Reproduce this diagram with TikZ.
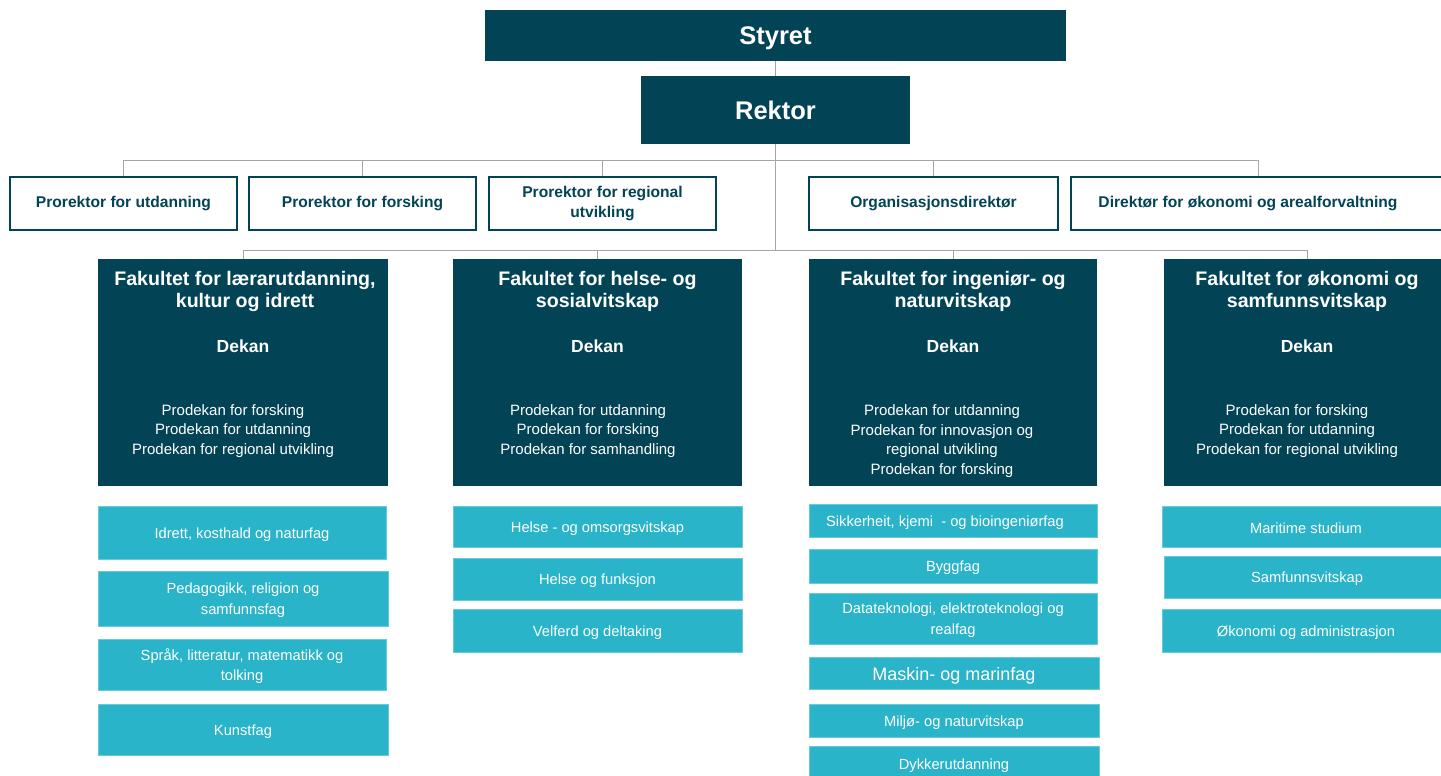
\documentclass[tikz,border=0pt]{standalone}
\usepackage{fontspec}
\setmainfont{Liberation Sans}
\definecolor{dark}{RGB}{2,68,86}
\definecolor{light}{RGB}{41,180,201}
\definecolor{conn}{RGB}{166,166,166}
\newcommand{\fs}[2]{\fontsize{#1}{#2}\selectfont}
\tikzset{
  topbox/.style={fill=dark, text=white, font=\bfseries\fs{25.5}{30}, inner sep=0pt, text depth=0pt},
  probox/.style={draw=dark, line width=1.5pt, fill=white, text=dark, font=\bfseries\fs{15.6}{20}, align=center, inner sep=0pt, minimum height=53pt},
  facbox/.style={fill=dark, inner sep=0pt, minimum height=227pt},
  factitle/.style={text=white, font=\bfseries\fs{19.6}{22}, align=center, inner sep=0pt},
  facdekan/.style={text=white, font=\bfseries\fs{17.5}{20}, inner sep=0pt},
  facpro/.style={text=white, font=\fs{15}{19.7}, align=center, inner sep=0pt},
  depbox/.style={fill=light, draw=light!70!white, line width=0.8pt, inner sep=0pt},
  deptext/.style={text=white, font=\fs{14.7}{20.5}, align=center, inner sep=0pt, yshift=-1.8pt},
  conline/.style={draw=conn, line width=1pt},
}
\begin{document}
\begin{tikzpicture}[x=1pt,y=-1pt]
\useasboundingbox (0,0) rectangle (1441,776);
% top
\node[topbox, minimum width=581pt, minimum height=51pt] (styret) at (775.5,35.5) {Styret};
\node[topbox, minimum width=269pt, minimum height=68pt] (rektor) at (775.5,110) {Rektor};
% prorektors
\node[probox, minimum width=227pt] (p1) at (123.5,203.5) {Prorektor for utdanning};
\node[probox, minimum width=227pt] (p2) at (362.5,203.5) {Prorektor for forsking};
\node[probox, minimum width=227pt] (p3) at (602.5,203.5) {Prorektor for regional\\utvikling};
\node[probox, minimum width=249pt] (p4) at (933.5,203.5) {Organisasjonsdirektør};
\node[probox, minimum width=374pt, label={[text=dark, font=\bfseries\fs{15.6}{20}, inner sep=0pt, xshift=-10pt]center:Direktør for økonomi og arealforvaltning}] (p5) at (1258,203.5) {};
% faculties
\node[facbox, minimum width=290pt] (f1) at (243,372.5) {};
\node[facbox, minimum width=289pt] (f2) at (597.5,372.5) {};
\node[facbox, minimum width=288pt] (f3) at (953,372.5) {};
\node[facbox, minimum width=287pt] (f4) at (1307,372.5) {};
\node[factitle] (f1t) at (245,291.5) {Fakultet for lærarutdanning,\\kultur og idrett};
\node[factitle] (f2t) at (597.5,291.5) {Fakultet for helse- og\\sosialvitskap};
\node[factitle] (f3t) at (953,291.5) {Fakultet for ingeniør- og\\naturvitskap};
\node[factitle] (f4t) at (1307,291.5) {Fakultet for økonomi og\\samfunnsvitskap};
\node[facdekan] (f1d) at (243,346) {Dekan};
\node[facdekan] (f2d) at (597.5,346) {Dekan};
\node[facdekan] (f3d) at (953,346) {Dekan};
\node[facdekan] (f4d) at (1307,346) {Dekan};
\node[facpro] (f1p) at (233,431) {Prodekan for forsking\\Prodekan for utdanning\\Prodekan for regional utvikling};
\node[facpro] (f2p) at (588,431) {Prodekan for utdanning\\Prodekan for forsking\\Prodekan for samhandling};
\node[facpro] (f3p) at (942,441) {Prodekan for utdanning\\Prodekan for innovasjon og\\regional utvikling\\Prodekan for forsking};
\node[facpro] (f4p) at (1297,431) {Prodekan for forsking\\Prodekan for utdanning\\Prodekan for regional utvikling};
% departments col 1
\node[depbox, minimum width=288pt, minimum height=53pt, label={[deptext]center:Idrett, kosthald og naturfag}] (d11) at (242,532.5) {};
\node[depbox, minimum width=290pt, minimum height=55pt, label={[deptext]center:Pedagogikk, religion og\\samfunnsfag}] (d12) at (243,598.5) {};
\node[depbox, minimum width=288pt, minimum height=51pt, label={[deptext]center:Språk, litteratur, matematikk og\\tolking}] (d13) at (242,664.5) {};
\node[depbox, minimum width=290pt, minimum height=51pt, label={[deptext]center:Kunstfag}] (d14) at (243,729.5) {};
% col 2
\node[depbox, minimum width=289pt, minimum height=41pt, label={[deptext]center:Helse - og omsorgsvitskap}] (d21) at (597.5,526.5) {};
\node[depbox, minimum width=289pt, minimum height=42pt, label={[deptext]center:Helse og funksjon}] (d22) at (597.5,579) {};
\node[depbox, minimum width=289pt, minimum height=43pt, label={[deptext]center:Velferd og deltaking}] (d23) at (597.5,630.5) {};
% col 3
\node[depbox, minimum width=288pt, minimum height=33pt, label={[deptext, xshift=-8pt]center:Sikkerheit, kjemi\ \ - og bioingeniørfag}] (d31) at (953,520.5) {};
\node[depbox, minimum width=288pt, minimum height=34pt, label={[deptext]center:Byggfag}] (d32) at (953,566) {};
\node[depbox, minimum width=288pt, minimum height=51pt, label={[deptext]center:Datateknologi, elektroteknologi og\\realfag}] (d33) at (953,618.5) {};
\node[depbox, minimum width=290pt, minimum height=32pt, label={[deptext, font=\fs{18}{20}, yshift=-1pt]center:Maskin- og marinfag}] (d34) at (954,673) {};
\node[depbox, minimum width=290pt, minimum height=33pt, label={[deptext]center:Miljø- og naturvitskap}] (d35) at (954,720.5) {};
\node[depbox, minimum width=290pt, minimum height=38pt, label={[deptext, yshift=1pt]center:Dykkerutdanning}] (d36) at (954,765) {};
% col 4
\node[depbox, minimum width=288pt, minimum height=41pt, label={[deptext]center:Maritime studium}] (d41) at (1306,526.5) {};
\node[depbox, minimum width=286pt, minimum height=42pt, label={[deptext]center:Samfunnsvitskap}] (d42) at (1307,577) {};
\node[depbox, minimum width=288pt, minimum height=43pt, label={[deptext]center:Økonomi og administrasjon}] (d43) at (1306,630.5) {};
% connectors
\coordinate (bus1) at (775.5,160);
\coordinate (bus2) at (775.5,250);
\draw[conline] (styret.south) -- (rektor.north);
\draw[conline] (rektor.south) -- (bus2);
\foreach \n in {p1,p2,p3,p4,p5} { \draw[conline] (\n.north) |- (bus1); }
\foreach \n in {f1,f2,f3,f4} { \draw[conline] (\n.north) |- (bus2); }
\end{tikzpicture}
\end{document}
